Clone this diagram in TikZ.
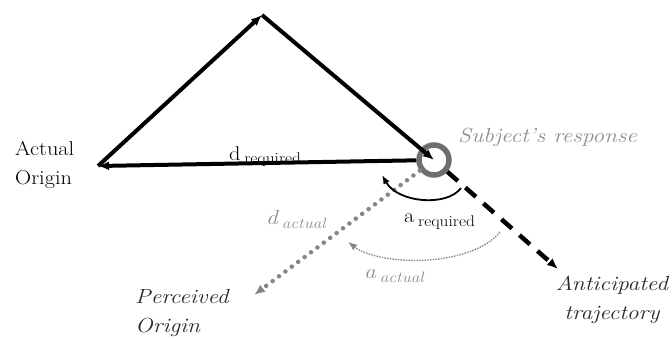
\documentclass[tikz,border=0pt]{standalone}
\usepackage{fontspec}
\usetikzlibrary{arrows.meta}
\definecolor{RingGray}{HTML}{6E6E6E}
\definecolor{NoteGray}{HTML}{8E8E8E}
\definecolor{DotGray}{HTML}{858585}
\definecolor{InkDark}{HTML}{2A2A2A}

\begin{document}
\begin{tikzpicture}[x=1bp, y=-1bp, every node/.style={inner sep=0pt}]
\tikzstyle{vec}=[line width=4bp, -{Latex[length=11bp,width=9bp]}]
\tikzstyle{upright}=[font=\fontsize{20}{30}\selectfont, xscale=1.12, transform shape]
\tikzstyle{slanted}=[font=\fontsize{20.5}{29}\selectfont\itshape, xscale=1.15, transform shape]
\useasboundingbox (0,0) rectangle (672,340);
\coordinate (orig) at (98,166);
\coordinate (apex) at (262,15);
\node[circle, draw=RingGray, line width=5.5bp, minimum size=30bp] (resp) at (434,160) {};
\coordinate (antic) at (558,269);
\coordinate (percv) at (254,295);
\coordinate (reqA) at (461,188);
\coordinate (reqB) at (382,175);
\coordinate (actA) at (500,232);
\coordinate (actB) at (348,242);
% triangle of the required path
\draw[vec] (resp) -- (orig);
\draw[vec] (orig) -- (apex);
\draw[vec] (apex) -- (resp.center);
% what is expected and what is perceived
\draw[line width=4.5bp, dash pattern=on 14bp off 10bp, -{Latex[length=11bp,width=9bp]}] (resp) -- (antic);
\draw[DotGray, line width=4.5bp, line cap=round, dash pattern=on 0bp off 8bp, -{Latex[length=11bp,width=9bp]}] (resp) -- (percv);
% angles
\draw[line width=1.8bp, -{Latex[length=9bp,width=7bp]}] (reqA) .. controls (447,207) and (398,203) .. (reqB);
\draw[DotGray, line width=1.3bp, dash pattern=on 1.5bp off 1.2bp, -{Latex[length=9bp,width=7bp]}] (actA) .. controls (470,268) and (380,266) .. (actB);
% labels
\node[upright, align=left, anchor=west] (actlbl) at (15,165) {Actual\\Origin};
\node[upright, anchor=base west] (dreq) at (229,160) {d\,\raisebox{-3bp}{\fontsize{15.5}{16}\selectfont required}};
\node[upright, anchor=base west] (areq) at (404,222) {a\,\raisebox{-4bp}{\fontsize{15.5}{16}\selectfont required}};
\node[slanted, NoteGray, anchor=base west] (resplbl) at (458,142) {Subject’s response};
\node[slanted, NoteGray, anchor=base west] (dact) at (266,224) {d\,\raisebox{-4bp}{\fontsize{15}{16}\selectfont actual}};
\node[slanted, NoteGray, anchor=base west] (aact) at (364,278) {a\,\raisebox{-4bp}{\fontsize{15}{16}\selectfont actual}};
\node[slanted, InkDark, align=left, anchor=west] (percvlbl) at (135,313) {Perceived\\Origin};
\node[slanted, InkDark, align=center] (anticlbl) at (612,300) {Anticipated\\trajectory};
\end{tikzpicture}
\end{document}
